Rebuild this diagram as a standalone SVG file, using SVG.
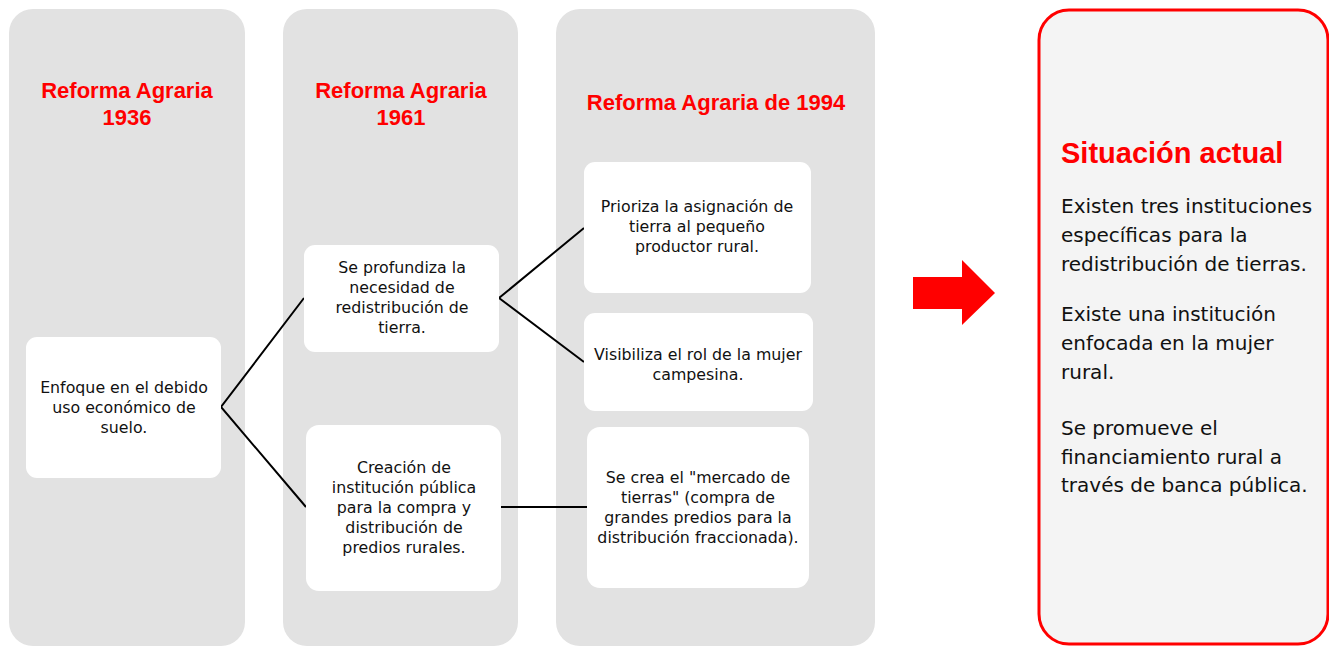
<svg xmlns="http://www.w3.org/2000/svg" width="1329" height="646" viewBox="0 0 1329 646">
<style>
.col{fill:#e2e2e2}
.box{fill:#ffffff}
.title{font-family:"Liberation Sans",Arial,sans-serif;font-weight:bold;font-size:22px;fill:#ff0000;text-anchor:middle}
.t{font-family:"DejaVu Sans",sans-serif;font-size:15.8px;fill:#111111;text-anchor:middle}
.rt{font-family:"DejaVu Sans",sans-serif;font-size:20px;fill:#111111}
.conn{stroke:#000000;stroke-width:2;fill:none}
</style>
<rect width="1329" height="646" fill="#ffffff"/>
<g id="col-1936">
<rect class="col" x="9" y="9" width="236" height="637" rx="24"/>
<text class="title" x="127" y="98">Reforma Agraria</text>
<text class="title" x="127" y="125">1936</text>
</g>
<g id="col-1961">
<rect class="col" x="283" y="9" width="235" height="637" rx="24"/>
<text class="title" x="401" y="98">Reforma Agraria</text>
<text class="title" x="401" y="125">1961</text>
</g>
<g id="col-1994">
<rect class="col" x="556" y="9" width="319" height="637" rx="24"/>
<text class="title" x="716" y="110">Reforma Agraria de 1994</text>
</g>
<g id="connectors">
<polyline class="conn" points="304,298 221,407 306,507"/>
<polyline class="conn" points="584,228 499,298 584,362"/>
<line class="conn" x1="501" y1="507" x2="587" y2="507"/>
</g>
<g id="n-enfoque">
<rect class="box" x="26" y="337" width="195" height="141" rx="11"/>
<text class="t" x="124" y="393">Enfoque en el debido</text>
<text class="t" x="124" y="413">uso económico de</text>
<text class="t" x="124" y="433">suelo.</text>
</g>
<g id="n-profundiza">
<rect class="box" x="304" y="245" width="195" height="107" rx="11"/>
<text class="t" x="402" y="273">Se profundiza la</text>
<text class="t" x="402" y="293">necesidad de</text>
<text class="t" x="402" y="313">redistribución de</text>
<text class="t" x="402" y="333">tierra.</text>
</g>
<g id="n-creacion">
<rect class="box" x="306" y="425" width="195" height="166" rx="13"/>
<text class="t" x="404" y="473">Creación de</text>
<text class="t" x="404" y="493">institución pública</text>
<text class="t" x="404" y="513">para la compra y</text>
<text class="t" x="404" y="533">distribución de</text>
<text class="t" x="404" y="553">predios rurales.</text>
</g>
<g id="n-prioriza">
<rect class="box" x="584" y="162" width="227" height="131" rx="11"/>
<text class="t" x="697" y="212">Prioriza la asignación de</text>
<text class="t" x="697" y="232">tierra al pequeño</text>
<text class="t" x="697" y="252">productor rural.</text>
</g>
<g id="n-visibiliza">
<rect class="box" x="584" y="313" width="229" height="98" rx="11"/>
<text class="t" x="698" y="360">Visibiliza el rol de la mujer</text>
<text class="t" x="698" y="380">campesina.</text>
</g>
<g id="n-mercado">
<rect class="box" x="587" y="427" width="222" height="161" rx="13"/>
<text class="t" x="698" y="483">Se crea el "mercado de</text>
<text class="t" x="698" y="503">tierras" (compra de</text>
<text class="t" x="698" y="523">grandes predios para la</text>
<text class="t" x="698" y="543">distribución fraccionada).</text>
</g>
<g id="arrow">
<polygon points="913,277 962,277 962,260 995,293 962,325 962,309 913,309" fill="#ff0000"/>
</g>
<g id="n-situacion">
<rect x="1039" y="10" width="289" height="634" rx="30" fill="#f4f4f4" stroke="#ff0000" stroke-width="3"/>
<text x="1061" y="163" font-family="Liberation Sans, Arial, sans-serif" font-weight="bold" font-size="29" fill="#ff0000">Situación actual</text>
<text class="rt" x="1061" y="213">Existen tres instituciones</text>
<text class="rt" x="1061" y="242">específicas para la</text>
<text class="rt" x="1061" y="271">redistribución de tierras.</text>
<text class="rt" x="1061" y="321">Existe una institución</text>
<text class="rt" x="1061" y="350">enfocada en la mujer</text>
<text class="rt" x="1061" y="379">rural.</text>
<text class="rt" x="1061" y="435">Se promueve el</text>
<text class="rt" x="1061" y="464">financiamiento rural a</text>
<text class="rt" x="1061" y="492">través de banca pública.</text>
</g>
</svg>
